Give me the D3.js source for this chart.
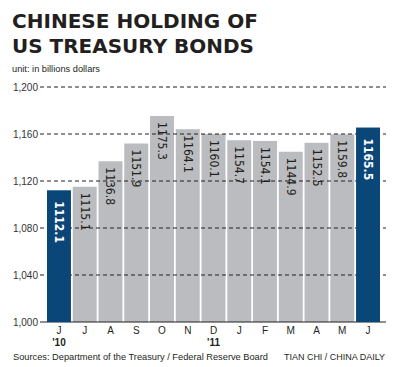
<!DOCTYPE html>
<html><head><meta charset="utf-8">
<script src="https://cdn.jsdelivr.net/npm/d3@7"></script>
<style>body{margin:0;background:#fff}svg{display:block}</style>
</head><body>
<svg id="c" width="397" height="367"></svg>
<script>
const months = ["J","J","A","S","O","N","D","J","F","M","A","M","J"];
const values = [1112.1,1115.1,1136.8,1151.9,1175.3,1164.1,1160.1,1154.7,1154.1,1144.9,1152.5,1159.8,1165.5];
const highlight = [true,false,false,false,false,false,false,false,false,false,false,false,true];
const yearLabels = [{i:0,t:"'10"},{i:6,t:"'11"}];
const yTicks = [1000,1040,1080,1120,1160,1200];

const svg = d3.select("#c");
const grey = "#bbbcbf", blue = "#0b4679";
const x = d3.scaleBand().domain(d3.range(values.length)).range([47,380]).paddingInner(0.07).paddingOuter(0);
const y = d3.scaleLinear().domain([1000,1200]).range([322,87]);

// title
const tf = "'DejaVu Sans', sans-serif";
svg.append("text").attr("x",12).attr("y",27.5).attr("font-family",tf).attr("font-weight","bold")
  .attr("font-size",19.5).attr("fill","#231f20").attr("textLength",246).attr("lengthAdjust","spacingAndGlyphs").text("CHINESE HOLDING OF");
svg.append("text").attr("x",12).attr("y",53).attr("font-family",tf).attr("font-weight","bold")
  .attr("font-size",19.5).attr("fill","#231f20").attr("textLength",242).attr("lengthAdjust","spacingAndGlyphs").text("US TREASURY BONDS");
svg.append("text").attr("x",12).attr("y",72).attr("font-family","'Liberation Sans', sans-serif")
  .attr("font-size",9.5).attr("fill","#231f20").attr("textLength",88).attr("lengthAdjust","spacingAndGlyphs").text("unit: in billions dollars");

// grey bars
const idx = d3.range(values.length);
svg.append("g").selectAll("rect").data(idx.filter(i=>!highlight[i])).join("rect")
  .attr("x",i=>x(i)).attr("width",x.bandwidth()).attr("y",i=>y(values[i])).attr("height",i=>y(1000)-y(values[i])).attr("fill",grey);

// grid
const g = svg.append("g");
g.selectAll("line").data(yTicks.filter(t=>t>1000)).join("line")
  .attr("x1",40).attr("x2",386).attr("y1",d=>y(d)).attr("y2",d=>y(d))
  .attr("stroke","#231f20").attr("stroke-width",1).attr("stroke-dasharray","4,3");
svg.append("line").attr("x1",40).attr("x2",386).attr("y1",y(1000)).attr("y2",y(1000)).attr("stroke","#231f20").attr("stroke-width",1.2);

// blue bars
svg.append("g").selectAll("rect").data(idx.filter(i=>highlight[i])).join("rect")
  .attr("x",i=>x(i)).attr("width",x.bandwidth()).attr("y",i=>y(values[i])).attr("height",i=>y(1000)-y(values[i])).attr("fill",blue);

// y tick labels
svg.append("g").selectAll("text").data(yTicks).join("text")
  .attr("x",38).attr("y",d=>y(d)+3.5).attr("text-anchor","end")
  .attr("font-family","'Liberation Sans', sans-serif").attr("font-size",10).attr("fill","#333")
  .text(d=>d3.format(",")(d));

// value labels (rotated)
const lf = "'Liberation Sans Narrow','DejaVu Sans Condensed', sans-serif";
svg.append("g").selectAll("text").data(idx).join("text")
  .attr("transform",i=>`translate(${x(i)+x.bandwidth()/2-4},${y(values[i])+(highlight[i]?11:6)}) rotate(90)`)
  .attr("font-family",lf).attr("font-size",12).attr("font-weight",i=>highlight[i]?"bold":"normal")
  .attr("fill",i=>highlight[i]?"#fff":"#231f20")
  .text(i=>d3.format(".1f")(values[i]));

// month labels
svg.append("g").selectAll("text").data(idx).join("text")
  .attr("x",i=>x(i)+x.bandwidth()/2).attr("y",334).attr("text-anchor","middle")
  .attr("font-family","'Liberation Sans', sans-serif").attr("font-size",10).attr("fill","#231f20")
  .text(i=>months[i]);
svg.append("g").selectAll("text").data(yearLabels).join("text")
  .attr("x",d=>x(d.i)+x.bandwidth()/2).attr("y",346).attr("text-anchor","middle")
  .attr("font-family","'Liberation Sans', sans-serif").attr("font-size",10).attr("font-weight","bold").attr("fill","#231f20")
  .text(d=>d.t);

// footer
svg.append("text").attr("x",13).attr("y",360).attr("font-family","'Liberation Sans', sans-serif").attr("font-size",9.5)
  .attr("fill","#231f20").attr("textLength",255).attr("lengthAdjust","spacingAndGlyphs").text("Sources: Department of the Treasury / Federal Reserve Board");
svg.append("text").attr("x",284).attr("y",360).attr("font-family","'Liberation Sans', sans-serif").attr("font-size",9.5)
  .attr("fill","#231f20").attr("textLength",101).attr("lengthAdjust","spacingAndGlyphs").text("TIAN CHI / CHINA DAILY");
</script>
</body></html>
